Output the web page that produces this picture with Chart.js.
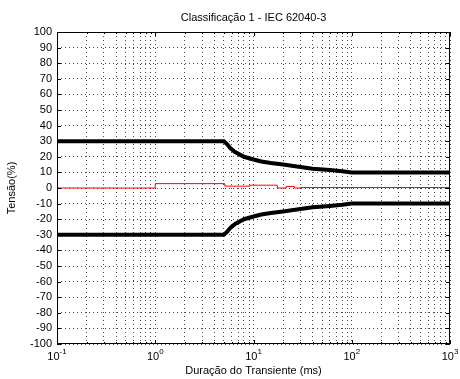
<!DOCTYPE html>
<html>
<head>
<meta charset="utf-8">
<script src="https://cdn.jsdelivr.net/npm/chart.js@4/dist/chart.umd.min.js"></script>
<style>
  body { margin: 0; background: #fff; }
  #wrap { width: 460px; height: 379px; }
</style>
</head>
<body>
<div id="wrap"><canvas id="grafico" width="460" height="379"></canvas></div>
<script>
// limites de tolerancia (classe 1) e tensao medida, duracao em ms
let limiteX = [0.1, 5, 5.4, 5.8, 6.5, 8, 10, 12, 15, 20, 30, 40, 60, 80, 100, 1000];
let limiteSup = [30, 30, 28, 25.6, 23, 20, 18.3, 17, 16, 15, 13.5, 12.4, 11.5, 10.8, 10, 10];
let limiteInf = [-30, -30, -28, -25.6, -23, -20, -18.3, -17, -16, -15, -13.5, -12.4, -11.5, -10.8, -10, -10];

let medidaX = [0.1, 1, 5.1, 9.2, 17.5, 21.5, 26, 30, 1000];
let medidaY = [0, 2.8, 1.2, 1.8, 0, 1, 0, 0.3, 0.3];

let expoentes = [-1, 0, 1, 2, 3];
let yTicks = { min: -100, max: 100, passo: 10 };

function pontos(xs, ys) {
    return xs.map(function (x, i) { return { x: x, y: ys[i] }; });
}

const fonte = '"Liberation Sans", Arial, sans-serif';
Chart.defaults.font.family = fonte;
Chart.defaults.font.size = 11;
Chart.defaults.color = '#000';

// textos, moldura e marcas internas no estilo do MATLAB
const moldura = {
    id: 'moldura',
    afterDraw: function (chart) {
        const ctx = chart.ctx;
        const a = chart.chartArea;
        const sx = chart.scales.x;
        const sy = chart.scales.y;
        ctx.save();
        ctx.setLineDash([]);
        ctx.strokeStyle = '#000';
        ctx.lineWidth = 1;

        // marcas internas
        ctx.beginPath();
        sy.ticks.forEach(function (t) {
            const y = Math.round(sy.getPixelForValue(t.value)) + 0.5;
            ctx.moveTo(a.left, y); ctx.lineTo(a.left + 4, y);
            ctx.moveTo(a.right, y); ctx.lineTo(a.right - 4, y);
        });
        sx.ticks.forEach(function (t) {
            const x = Math.round(sx.getPixelForValue(t.value)) + 0.5;
            const lg = Math.log10(t.value);
            const len = Math.abs(lg - Math.round(lg)) < 1e-9 ? 4 : 2;
            ctx.moveTo(x, a.bottom); ctx.lineTo(x, a.bottom - len);
            ctx.moveTo(x, a.top); ctx.lineTo(x, a.top + len);
        });
        ctx.stroke();

        ctx.strokeRect(Math.round(a.left) + 0.5, Math.round(a.top) + 0.5,
            Math.round(a.right - a.left) - 1, Math.round(a.bottom - a.top) - 1);

        ctx.fillStyle = '#000';
        // rotulos do eixo x: 10 elevado ao expoente
        expoentes.forEach(function (e) {
            const x = sx.getPixelForValue(Math.pow(10, e));
            ctx.font = '11px ' + fonte;
            const wb = ctx.measureText('10').width;
            ctx.font = '8px ' + fonte;
            const we = ctx.measureText(String(e)).width;
            const x0 = x - (wb + we) / 2;
            ctx.textAlign = 'left';
            ctx.textBaseline = 'alphabetic';
            ctx.font = '11px ' + fonte;
            ctx.fillText('10', x0, a.bottom + 16);
            ctx.font = '8px ' + fonte;
            ctx.fillText(String(e), x0 + wb, a.bottom + 10);
        });

        ctx.font = '11px ' + fonte;
        ctx.textAlign = 'center';
        ctx.textBaseline = 'middle';
        const cx = (a.left + a.right) / 2;
        ctx.fillText('Classificação 1 - IEC 62040-3', cx, 18);
        ctx.fillText('Duração do Transiente (ms)', cx, 371);

        ctx.translate(12, (a.top + a.bottom) / 2);
        ctx.rotate(-Math.PI / 2);
        ctx.fillText('Tensão(%)', 0, 0);
        ctx.restore();
    }
};

document.addEventListener('DOMContentLoaded', function () {
    let ctx = document.getElementById('grafico').getContext('2d');
    let grafico = new Chart(ctx, {
        type: 'line',
        data: {
            datasets: [
                {
                    label: 'Limite superior',
                    data: pontos(limiteX, limiteSup),
                    borderColor: '#000',
                    borderWidth: 4,
                    pointRadius: 0,
                    tension: 0
                },
                {
                    label: 'Limite inferior',
                    data: pontos(limiteX, limiteInf),
                    borderColor: '#000',
                    borderWidth: 4,
                    pointRadius: 0,
                    tension: 0
                },
                {
                    label: 'Tensão',
                    data: pontos(medidaX, medidaY),
                    borderColor: 'rgb(255, 0, 0)',
                    borderWidth: 1,
                    pointRadius: 0,
                    stepped: 'before'
                }
            ]
        },
        options: {
            responsive: false,
            animation: false,
            events: [],
            layout: { padding: { top: 32, right: 10, left: 0, bottom: 0 } },
            plugins: {
                legend: { display: false },
                tooltip: { enabled: false },
                title: { display: false }
            },
            scales: {
                x: {
                    type: 'logarithmic',
                    min: 0.1,
                    max: 1000,
                    afterBuildTicks: function (scale) {
                        let t = [];
                        for (let e = -1; e < 3; e++) {
                            for (let k = 1; k < 10; k++) {
                                t.push({ value: k * Math.pow(10, e) });
                            }
                        }
                        t.push({ value: 1000 });
                        scale.ticks = t;
                    },
                    afterFit: function (scale) { scale.height = 35; },
                    ticks: { display: false, autoSkip: false },
                    grid: { color: 'rgba(0,0,0,0.7)', drawTicks: false },
                    border: { display: false, dash: [1, 3] }
                },
                y: {
                    min: yTicks.min,
                    max: yTicks.max,
                    afterFit: function (scale) { scale.width = 57; },
                    ticks: { stepSize: yTicks.passo, padding: 5, autoSkip: false, color: '#000' },
                    grid: { color: 'rgba(0,0,0,0.7)', drawTicks: false },
                    border: { display: false, dash: [1, 3] }
                }
            }
        },
        plugins: [moldura]
    });
});
</script>
</body>
</html>
